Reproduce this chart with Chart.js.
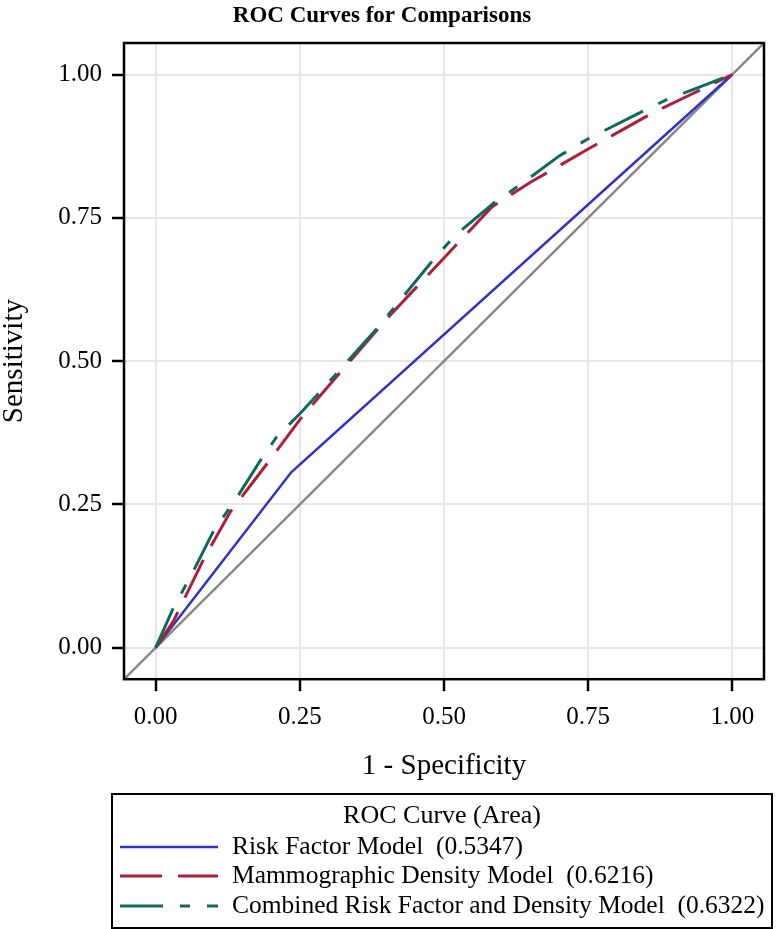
<!DOCTYPE html>
<html><head><meta charset="utf-8">
<script src="https://cdn.jsdelivr.net/npm/chart.js@4/dist/chart.umd.min.js"></script>
<style>html,body{margin:0;padding:0;background:#fff}#wrap{position:relative;width:780px;height:929px}</style>
</head><body><div id="wrap"><canvas id="c" width="780" height="929"></canvas></div>
<script>
// ---- data ----
const chartTitle = 'ROC Curves for Comparisons';
const xTitle = '1 - Specificity';
const yTitle = 'Sensitivity';
const legendTitle = 'ROC Curve (Area)';
const seriesNames = ['Risk Factor Model', 'Mammographic Density Model', 'Combined Risk Factor and Density Model'];
const seriesAreas = ['0.5347', '0.6216', '0.6322'];

const riskX = [0, 0.235, 1];
const riskY = [0, 0.306, 1];

const densX = [0, 0.03, 0.05, 0.085, 0.13, 0.20, 0.25, 0.30, 0.40, 0.50, 0.583, 0.65, 0.75, 0.86, 0.93, 1];
const densY = [0, 0.045, 0.086, 0.158, 0.238, 0.33, 0.398, 0.457, 0.573, 0.68, 0.769, 0.812, 0.87, 0.932, 0.966, 1];

const combX = [0, 0.03, 0.065, 0.10, 0.144, 0.183, 0.21, 0.25, 0.30, 0.383, 0.415, 0.48, 0.52, 0.589, 0.627, 0.70, 0.75, 0.847, 0.89, 0.917, 1];
const combY = [0, 0.068, 0.133, 0.203, 0.267, 0.329, 0.368, 0.408, 0.463, 0.556, 0.595, 0.675, 0.72, 0.778, 0.804, 0.858, 0.888, 0.937, 0.958, 0.968, 1];

const tickValues = [0, 0.25, 0.5, 0.75, 1];
const tickLabels = ['0.00', '0.25', '0.50', '0.75', '1.00'];
const axisMin = -0.055, axisMax = 1.055;

// ---- styles ----
const FONT = '"Liberation Serif", "Times New Roman", serif';
const colors = ['#3232C8', '#AE1F38', '#0E6B5C'];
const dashes = [[], [42, 16], [43, 17, 10, 17]];
const widths = [2.5, 3, 3];

const pts = (xs, ys) => xs.map((x, i) => ({x, y: ys[i]}));
const seriesData = [pts(riskX, riskY), pts(densX, densY), pts(combX, combY)];

const datasets = seriesData.map((d, i) => ({
  label: seriesNames[i] + '  (' + seriesAreas[i] + ')',
  data: d,
  borderColor: colors[i],
  borderWidth: widths[i],
  borderDash: dashes[i],
  pointRadius: 0,
  fill: false,
  tension: 0,
  order: 3 - i
}));
datasets.push({
  label: 'Reference',
  data: [{x: axisMin, y: axisMin}, {x: axisMax, y: axisMax}],
  borderColor: '#888888',
  borderWidth: 2.5,
  pointRadius: 0,
  fill: false,
  order: 10,
  isRef: true
});

const frame = {
  id: 'frame',
  afterDraw(chart) {
    const {ctx, chartArea: a} = chart;
    ctx.save();
    ctx.strokeStyle = '#000';
    ctx.lineWidth = 2.5;
    ctx.strokeRect(a.left, a.top, a.right - a.left, a.bottom - a.top);
    ctx.restore();
  }
};

const rocLegend = {
  id: 'rocLegend',
  afterDraw(chart) {
    const ctx = chart.ctx;
    const bx = 112, by = 794, bw = 660, bh = 134;
    ctx.save();
    ctx.strokeStyle = '#000';
    ctx.lineWidth = 2;
    ctx.strokeRect(bx, by, bw, bh);
    ctx.fillStyle = '#000';
    ctx.textBaseline = 'middle';
    ctx.textAlign = 'center';
    ctx.font = '26px ' + FONT;
    ctx.fillText(legendTitle, bx + bw / 2, by + 22);
    ctx.textAlign = 'left';
    const rows = [by + 53, by + 82, by + 112];
    chart.data.datasets.filter(d => !d.isRef).forEach((d, i) => {
      const y = rows[i];
      ctx.save();
      ctx.strokeStyle = d.borderColor;
      ctx.lineWidth = d.borderWidth;
      ctx.setLineDash(d.borderDash || []);
      ctx.beginPath();
      ctx.moveTo(bx + 8, y);
      ctx.lineTo(bx + 106, y);
      ctx.stroke();
      ctx.restore();
      ctx.fillStyle = '#000';
      ctx.font = '25.5px ' + FONT;
      ctx.fillText(d.label, bx + 120, y);
    });
    ctx.restore();
  }
};

const axisCommon = {
  type: 'linear',
  min: axisMin,
  max: axisMax,
  afterBuildTicks: s => { s.ticks = tickValues.map(v => ({value: v})); },
  grid: { color: '#e6e6e6', lineWidth: 2, tickColor: '#000', tickLength: 12, tickWidth: 2.5, drawOnChartArea: true },
  border: { display: false }
};

new Chart(document.getElementById('c'), {
  type: 'line',
  data: { datasets },
  options: {
    responsive: false,
    animation: false,
    devicePixelRatio: 1,
    layout: { padding: { left: 0, right: 16, top: 0, bottom: 141 } },
    plugins: {
      legend: { display: false },
      tooltip: { enabled: false },
      title: {
        display: true, text: chartTitle, color: '#000',
        font: { family: FONT, size: 23, weight: 'bold', lineHeight: 1.2 },
        padding: { top: 2, bottom: 13.4 }
      }
    },
    scales: {
      x: Object.assign({}, axisCommon, {
        position: 'bottom',
        ticks: { color: '#000', font: { family: FONT, size: 25, lineHeight: 1.2 }, padding: 11, maxRotation: 0,
          callback: v => tickLabels[tickValues.indexOf(v)] },
        title: { display: true, text: xTitle, color: '#000', font: { family: FONT, size: 29, lineHeight: 1.2 }, padding: { top: 6, bottom: 4 } }
      }),
      y: Object.assign({}, axisCommon, {
        position: 'left',
        afterFit: s => { s.width = 124; },
        ticks: { color: '#000', font: { family: FONT, size: 25 }, padding: 10,
          callback: v => tickLabels[tickValues.indexOf(v)] },
        title: { display: true, text: yTitle, color: '#000', font: { family: FONT, size: 29, lineHeight: 1 }, padding: 0 }
      })
    }
  },
  plugins: [frame, rocLegend]
});
</script></body></html>
